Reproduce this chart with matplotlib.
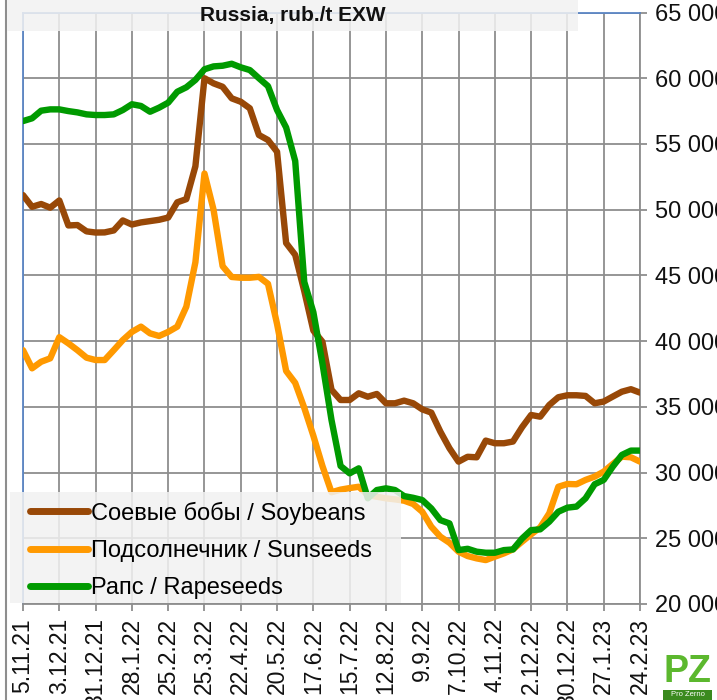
import matplotlib
matplotlib.use('Agg')
import matplotlib.pyplot as plt
from matplotlib.patches import Rectangle
from matplotlib.lines import Line2D
from matplotlib.ticker import FuncFormatter
import numpy as np

plt.rcParams['font.family'] = ['Liberation Sans', 'DejaVu Sans']

# ---------------- data ----------------
title = 'Russia, rub./t EXW'
tick_labels = ['5.11.21', '3.12.21', '31.12.21', '28.1.22', '25.2.22', '25.3.22',
               '22.4.22', '20.5.22', '17.6.22', '15.7.22', '12.8.22', '9.9.22',
               '7.10.22', '4.11.22', '2.12.22', '30.12.22', '27.1.23', '24.2.23']

series_names = ['Соевые бобы / Soybeans', 'Подсолнечник / Sunseeds', 'Рапс / Rapeseeds']

soybeans = [51110, 50220, 50430, 50150, 50700, 48800, 48830, 48350, 48260, 48270,
            48420, 49180, 48870, 49030, 49130, 49230, 49400, 50560, 50800, 53300,
            60000, 59610, 59350, 58470, 58210, 57710, 55680, 55300, 54400, 47460,
            46560, 43800, 40800, 39950, 36300, 35520, 35520, 36030, 35770, 35980,
            35270, 35270, 35470, 35270, 34810, 34560, 33110, 31850, 30830, 31200,
            31160, 32430, 32230, 32230, 32360, 33450, 34380, 34250, 35140, 35730,
            35880, 35880, 35830, 35270, 35400, 35780, 36150, 36340, 36080]

sunseeds = [39310, 37930, 38430, 38690, 40300, 39830, 39310, 38740, 38560, 38560,
            39310, 40080, 40700, 41100, 40590, 40390, 40700, 41100, 42620, 46000,
            52750, 50000, 45700, 44880, 44820, 44820, 44890, 44360, 41300, 37730,
            36820, 34920, 32800, 30500, 28500, 28700, 28820, 28920, 28290, 28160,
            28040, 27960, 27860, 27610, 27020, 25880, 25120, 24660, 23980, 23650,
            23470, 23340, 23600, 23850, 24160, 24740, 25300, 25830, 26900, 28920,
            29130, 29110, 29440, 29690, 30070, 30650, 31210, 31160, 30830]

rapeseeds = [56740, 56950, 57530, 57630, 57630, 57500, 57400, 57250, 57200, 57200,
             57250, 57580, 58020, 57890, 57450, 57760, 58140, 58970, 59310, 59870,
             60680, 60900, 60950, 61100, 60830, 60620, 60000, 59400, 57580, 56250,
             53700, 44500, 42200, 38300, 34000, 30500, 29940, 30320, 28040, 28670,
             28800, 28670, 28210, 28080, 27910, 27270, 26380, 26130, 24100, 24200,
             23980, 23900, 23900, 24100, 24150, 24980, 25620, 25680, 26260, 27020,
             27330, 27410, 28040, 29110, 29440, 30450, 31340, 31670, 31670]

colors = ['#984807', '#FF9900', '#009A00']

# ---------------- figure ----------------
W, H = 717, 700
fig = plt.figure(figsize=(W / 100, H / 100), dpi=100)
fig.patch.set_facecolor('white')

left_px, right_px, top_px, bottom_px = 23, 640, 12.5, 604
ax = fig.add_axes([left_px / W, 1 - bottom_px / H,
                   (right_px - left_px) / W, (bottom_px - top_px) / H])

weeks = np.arange(len(soybeans))
for vals, name, c in zip([soybeans, sunseeds, rapeseeds], series_names, colors):
    ax.plot(weeks, vals, color=c, lw=4.6, label=name, zorder=3,
            solid_joinstyle='round', solid_capstyle='round')

ax.set_xlim(0, len(soybeans) - 1)
ax.set_ylim(20000, 65000)
ax.set_yticks(np.arange(20000, 65001, 5000))
ax.yaxis.set_major_formatter(FuncFormatter(lambda v, p: f'{int(v):,}'.replace(',', ' ')))
ax.yaxis.tick_right()
ax.set_xticks(weeks[::4])
ax.set_xticklabels(tick_labels, rotation=90)

grid_c = '#8e8e8e'
ax.tick_params(axis='both', length=5, width=1.3, color=grid_c, labelcolor='#111111')
ax.tick_params(axis='y', pad=6, labelsize=17)
ax.tick_params(axis='x', pad=5, labelsize=16.5)
ax.grid(True, color=grid_c, lw=1.3)
ax.set_axisbelow(True)

for s in ['left', 'top']:
    ax.spines[s].set_color('#5b86c5')
    ax.spines[s].set_linewidth(1.3)
for s in ['right', 'bottom']:
    ax.spines[s].set_color(grid_c)
    ax.spines[s].set_linewidth(1.3)

# legend background (semi-transparent, above lines)
ax.add_patch(Rectangle((10 / W, 1 - 603 / H), (401 - 10) / W, (603 - 492) / H,
                       transform=fig.transFigure, facecolor='#f2f2f2', alpha=0.85,
                       edgecolor='none', clip_on=False, zorder=4))
leg = ax.legend(loc='upper left', bbox_to_anchor=(30 / W, 1 - 501.5 / H),
                bbox_transform=fig.transFigure, frameon=False, fontsize=17,
                borderpad=0, borderaxespad=0, handlelength=2.45,
                handletextpad=0.15, labelspacing=0.64)
leg.set_zorder(5)
for h in leg.get_lines():
    h.set_linewidth(5)

# title box
fig.add_artist(Rectangle((7 / W, 1 - 31 / H), (578 - 7) / W, 31 / H,
                         transform=fig.transFigure, facecolor='#f2f2f2', alpha=0.85,
                         edgecolor='none', zorder=10))
fig.text(293 / W, 1 - 15.5 / H, title, ha='center', va='center', fontsize=15,
         fontweight='bold', color='#111111', zorder=11)

# outer frame line at left
fig.add_artist(Line2D([6 / W, 6 / W], [0, 1], color=grid_c, lw=1.5, zorder=9))

# logo
fig.text(688 / W, 1 - 672 / H, 'PZ', ha='center', va='center', fontsize=27,
         fontweight='bold', color='#5cb82e', zorder=11)
fig.add_artist(Rectangle((663 / W, 0), (712 - 663) / W, 10 / H,
                         transform=fig.transFigure, facecolor='#3a8a1e',
                         edgecolor='none', zorder=10))
fig.text(687.5 / W, 5 / H, 'Pro Zerno', ha='center', va='center', fontsize=5.5,
         color='white', zorder=11)

fig.savefig('out.png', dpi=100)
